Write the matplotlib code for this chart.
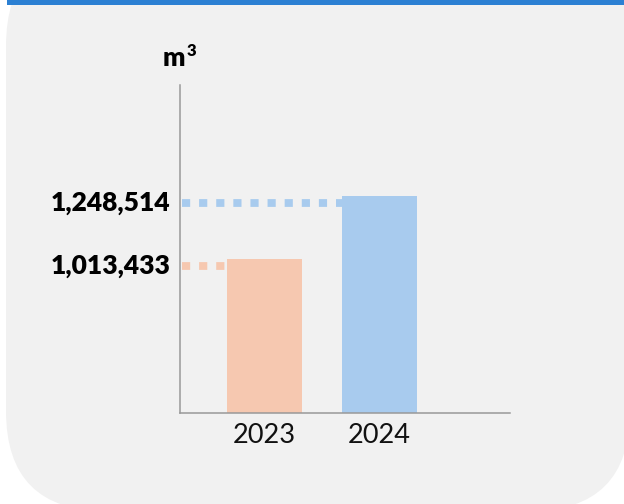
import matplotlib
matplotlib.use("Agg")
import matplotlib.pyplot as plt
from matplotlib.patches import FancyBboxPatch, Rectangle
from matplotlib.transforms import offset_copy

# data
years = ["2023", "2024"]
volumes = [1013433, 1248514]
bar_colors = ["#f6c8b0", "#a8cbee"]

plt.rcParams["font.family"] = ["Lato", "DejaVu Sans"]

fig = plt.figure(figsize=(6.24, 5.04), dpi=100)
fig.patch.set_facecolor("white")

# background card, in pixel units
bg = fig.add_axes([0, 0, 1, 1])
bg.set_xlim(0, 624)
bg.set_ylim(504, 0)
bg.axis("off")
card = FancyBboxPatch((6, -54), 624, 565,
                      boxstyle="round,pad=0,rounding_size=100",
                      facecolor="#f1f1f1", edgecolor="none")
bg.add_patch(card)
bg.add_patch(Rectangle((7, 0), 617, 5, facecolor="#2c80d3", edgecolor="none"))

# unit label
bg.text(163, 66, "m", fontsize=19, fontweight="heavy", color="black",
        ha="left", va="baseline")
bg.text(187, 56, "3", fontsize=12, fontweight="heavy", color="black",
        ha="left", va="baseline")

# chart
ax = fig.add_axes([180 / 624, (504 - 413) / 504, 330 / 624, 328 / 504])
ax.set_facecolor("none")
x = list(range(len(years)))
width = 0.652
ax.bar(x, volumes, width=width, color=bar_colors, zorder=2)
ax.set_xlim(-0.735, 2.135)
ax.set_ylim(438800, 1662700)

for s in ["top", "right"]:
    ax.spines[s].set_visible(False)
for s in ["left", "bottom"]:
    ax.spines[s].set_color("#999999")
    ax.spines[s].set_linewidth(1.1)

ax.set_yticks([])
ax.set_xticks(x)
ax.set_xticklabels(years, fontsize=19.5, fontweight="normal", color="#111111")
ax.tick_params(axis="x", length=0, pad=7)

# dotted guide lines and value labels, sitting a bit under the bar tops
shifted = offset_copy(ax.transData, fig=fig, x=0, y=-5, units="points")
for xi, v, c in zip(x, volumes, bar_colors):
    ax.plot([-0.72, xi - width / 2], [v, v], color=c, lw=5.6,
            linestyle=(0, (1.05, 1.15)), solid_capstyle="butt",
            dash_capstyle="butt", transform=shifted, zorder=1)
    ax.annotate(f"{v:,}", xy=(0, v), xycoords=("axes fraction", "data"),
                xytext=(-7, -5), textcoords="offset points",
                ha="right", va="center", fontsize=19, fontweight="heavy",
                color="black", annotation_clip=False)

fig.savefig("out.png", dpi=100, facecolor="white")
